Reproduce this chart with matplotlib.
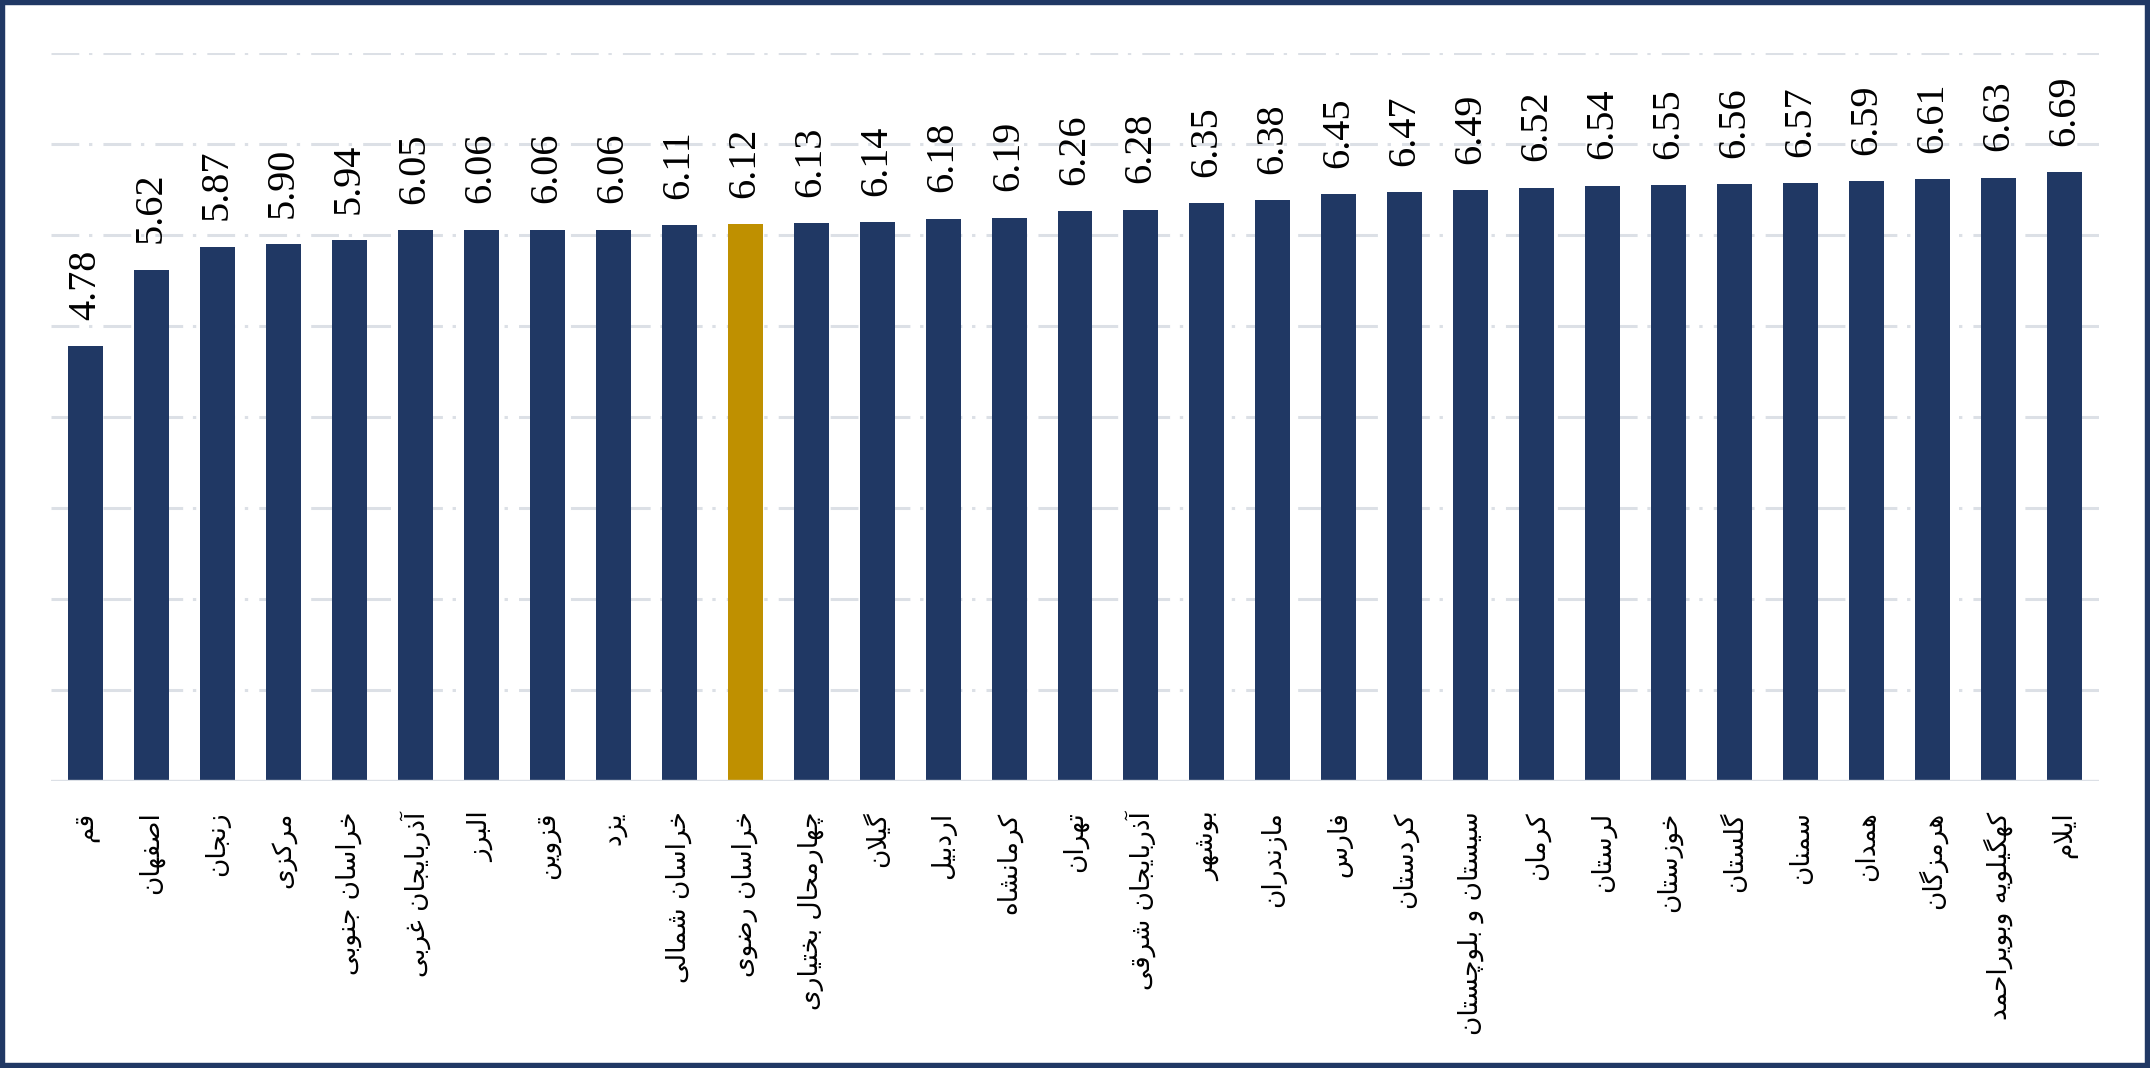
import matplotlib
matplotlib.use("Agg")
import matplotlib.pyplot as plt
from matplotlib.patches import Rectangle

# provinces, left to right (logical Persian spelling)
provinces = [
    "قم", "اصفهان", "زنجان", "مرکزی", "خراسان جنوبی", "آذربایجان غربی",
    "البرز", "قزوین", "یزد", "خراسان شمالی", "خراسان رضوی",
    "چهارمحال بختیاری", "گیلان", "اردبیل", "کرمانشاه", "تهران",
    "آذربایجان شرقی", "بوشهر", "مازندران", "فارس", "کردستان",
    "سیستان و بلوچستان", "کرمان", "لرستان", "خوزستان", "گلستان",
    "سمنان", "همدان", "هرمزگان", "کهگیلویه وبویراحمد", "ایلام",
]
values = [
    4.78, 5.62, 5.87, 5.90, 5.94, 6.05, 6.06, 6.06, 6.06, 6.11, 6.12,
    6.13, 6.14, 6.18, 6.19, 6.26, 6.28, 6.35, 6.38, 6.45, 6.47, 6.49,
    6.52, 6.54, 6.55, 6.56, 6.57, 6.59, 6.61, 6.63, 6.69,
]
highlight = "خراسان رضوی"

navy = "#203864"
gold = "#BF9000"
grid_col = "#DCE0E6"

plt.rcParams["font.serif"] = ["Liberation Serif", "DejaVu Serif"]
plt.rcParams["lines.scale_dashes"] = False

# presentation forms: (isolated, final, initial, medial); 2-tuples only join to the right
forms = {
    "ا": (0xFE8D, 0xFE8E), "آ": (0xFE81, 0xFE82), "د": (0xFEA9, 0xFEAA),
    "ذ": (0xFEAB, 0xFEAC), "ر": (0xFEAD, 0xFEAE), "ز": (0xFEAF, 0xFEB0),
    "و": (0xFEED, 0xFEEE),
    "ب": (0xFE8F, 0xFE90, 0xFE91, 0xFE92), "پ": (0xFB56, 0xFB57, 0xFB58, 0xFB59),
    "ت": (0xFE95, 0xFE96, 0xFE97, 0xFE98), "ج": (0xFE9D, 0xFE9E, 0xFE9F, 0xFEA0),
    "چ": (0xFB7A, 0xFB7B, 0xFB7C, 0xFB7D), "ح": (0xFEA1, 0xFEA2, 0xFEA3, 0xFEA4),
    "خ": (0xFEA5, 0xFEA6, 0xFEA7, 0xFEA8), "س": (0xFEB1, 0xFEB2, 0xFEB3, 0xFEB4),
    "ش": (0xFEB5, 0xFEB6, 0xFEB7, 0xFEB8), "ص": (0xFEB9, 0xFEBA, 0xFEBB, 0xFEBC),
    "ض": (0xFEBD, 0xFEBE, 0xFEBF, 0xFEC0), "ط": (0xFEC1, 0xFEC2, 0xFEC3, 0xFEC4),
    "غ": (0xFECD, 0xFECE, 0xFECF, 0xFED0), "ف": (0xFED1, 0xFED2, 0xFED3, 0xFED4),
    "ق": (0xFED5, 0xFED6, 0xFED7, 0xFED8), "ک": (0xFB8E, 0xFB8F, 0xFB90, 0xFB91),
    "گ": (0xFB92, 0xFB93, 0xFB94, 0xFB95), "ل": (0xFEDD, 0xFEDE, 0xFEDF, 0xFEE0),
    "م": (0xFEE1, 0xFEE2, 0xFEE3, 0xFEE4), "ن": (0xFEE5, 0xFEE6, 0xFEE7, 0xFEE8),
    "ه": (0xFEE9, 0xFEEA, 0xFEEB, 0xFEEC), "ی": (0xFBFC, 0xFBFD, 0xFBFE, 0xFBFF),
}
lam_alef = {"ا": (0xFEFB, 0xFEFC), "آ": (0xFEF5, 0xFEF6)}


def shape(word):
    # join letters and reverse for left-to-right drawing
    out = []
    i = 0
    n = len(word)
    while i < n:
        ch = word[i]
        prev = word[i - 1] if i > 0 else " "
        joins_prev = prev in forms and len(forms[prev]) == 4
        if ch not in forms:
            out.append(ch)
            i += 1
            continue
        if ch == "ل" and i + 1 < n and word[i + 1] in lam_alef:
            f = lam_alef[word[i + 1]]
            out.append(chr(f[1] if joins_prev else f[0]))
            i += 2
            continue
        f = forms[ch]
        nxt = word[i + 1] if i + 1 < n else " "
        joins_next = len(f) == 4 and nxt in forms
        if joins_prev and joins_next:
            g = f[3]
        elif joins_prev:
            g = f[1]
        elif joins_next:
            g = f[2]
        else:
            g = f[0]
        out.append(chr(g))
        i += 1
    return "".join(reversed(out))


fig = plt.figure(figsize=(21.5, 10.68), dpi=100)
ax = fig.add_axes([0.0237, 0.2687, 0.9526, 0.6817])

x = list(range(len(provinces)))
colors = [gold if p == highlight else navy for p in provinces]
bars = ax.bar(x, values, width=0.53, color=colors, zorder=3)

for xi, v in zip(x, values):
    ax.annotate(f"{v:.2f}", (xi, v), xytext=(0, 19), textcoords="offset points",
                rotation=90, ha="center", va="bottom", fontsize=29,
                fontfamily="serif", color="black")

ax.set_ylim(0, 8)
ax.set_xlim(-0.52, len(provinces) - 0.48)

for yv in range(1, 9):
    ax.axhline(yv, color=grid_col, lw=2.2, dashes=(20, 7, 2.4, 8), zorder=1)
ax.axhline(0, color=grid_col, lw=2.4, zorder=4)

ax.set_yticks([])
ax.set_xticks(x)
ax.set_xticklabels([shape(p) for p in provinces], rotation=90, fontsize=19,
                   fontfamily="DejaVu Sans", va="top", ha="center")
ax.tick_params(axis="x", length=0, pad=22)
for s in ax.spines.values():
    s.set_visible(False)

fig.patches.append(Rectangle((0, 0), 1, 1, transform=fig.transFigure, fill=False,
                             edgecolor=navy, lw=7.5, zorder=10))

fig.savefig("out.png", dpi=100)
